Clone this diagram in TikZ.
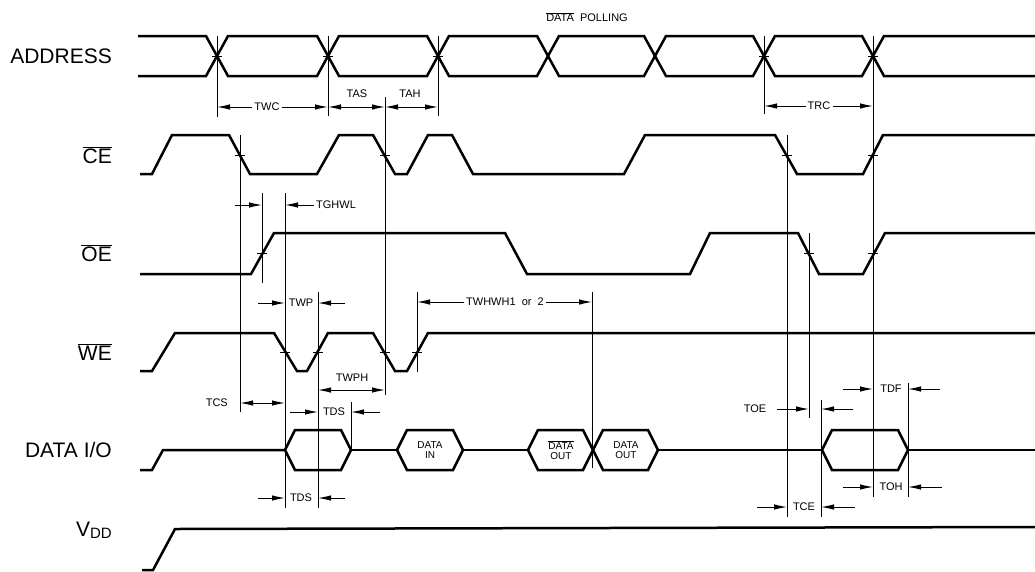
\documentclass[tikz,border=0pt]{standalone}
\usepackage{fontspec}
\setmainfont{Liberation Sans}
\usetikzlibrary{arrows.meta}

\newcommand{\databox}[2]{\draw[wave] (#1,450) -- (#1+10,430) -- (#2-10,430) -- (#2,450) -- (#2-10,470) -- (#1+10,470) -- cycle;}

\begin{document}
\begin{tikzpicture}[x=1pt, y=-1pt]
	\tikzstyle{wave}=[line width=2.5pt, line join=miter]
	\tikzstyle{guide}=[line width=1pt]
	\tikzstyle{dim}=[line width=1pt, -{Latex[length=13pt,width=5.5pt]}]
	\tikzstyle{dims}=[line width=1pt, {Latex[length=13pt,width=5.5pt]}-{Latex[length=13pt,width=5.5pt]}]
	\tikzstyle{sig}=[anchor=east, inner sep=0pt, font=\fontsize{21}{21}\selectfont]
	\tikzstyle{tlabel}=[inner sep=2pt, font=\fontsize{11}{11}\selectfont]
	\tikzstyle{hexlabel}=[inner sep=0pt, align=center, font=\fontsize{10}{10.5}\selectfont]
	\useasboundingbox (0,0) rectangle (1035,571);
	% signal names
	\node[sig] (address) at (112,56) {ADDRESS};
	\node[sig] (ce) at (112,155) {$\overline{\mbox{CE}}$};
	\node[sig] (oe) at (112,253) {$\overline{\mbox{OE}}$};
	\node[sig] (we) at (112,352) {$\overline{\mbox{WE}}$};
	\node[sig] (dataio) at (112,450) {DATA I/O};
	\node[sig] (vdd) at (112,530) {V{\fontsize{15}{15}\selectfont\raisebox{-2pt}{DD}}};
	\node[tlabel] (polling) at (587,17) {$\overline{\mbox{DATA}}$\ \ POLLING};
	% waveforms
	\draw[wave] (138,36) -- (206,36) -- (228,76) -- (317,76) -- (339,36) -- (427,36) -- (449,76) -- (537,76) -- (559,36) -- (644,36) -- (666,76) -- (753,76) -- (775,36) -- (862,36) -- (884,76) -- (1035,76);
	\draw[wave] (138,76) -- (206,76) -- (228,36) -- (317,36) -- (339,76) -- (427,76) -- (449,36) -- (537,36) -- (559,76) -- (644,76) -- (666,36) -- (753,36) -- (775,76) -- (862,76) -- (884,36) -- (1035,36);
	\draw[wave] (140,174) -- (152,174) -- (172,135) -- (229,135) -- (250,174) -- (317,174) -- (339,135) -- (373,135) -- (395,174) -- (407,174) -- (428,135) -- (452,135) -- (473,174) -- (624,174) -- (645,135) -- (775,135) -- (797,174) -- (863,174) -- (883,135) -- (1035,135);
	\draw[wave] (140,274) -- (251,274) -- (274,233) -- (505,233) -- (527,274) -- (690,274) -- (710,233) -- (798,233) -- (819,274) -- (863,274) -- (885,233) -- (1035,233);
	\draw[wave] (140,371) -- (152,371) -- (175,333) -- (274,333) -- (297,371) -- (307,371) -- (328,333) -- (373,333) -- (395,371) -- (407,371) -- (428,333) -- (1035,333);
	\draw[wave] (140,470) -- (152,470) -- (163,450) -- (285,450);
	\draw[wave] (351,450) -- (397,450);
	\draw[wave] (463,450) -- (528,450);
	\draw[wave] (658,450) -- (822,450);
	\draw[wave] (908,450) -- (1035,450);
	\draw[wave] (142,570) -- (153,570) -- (175,529) -- (1035,527);
	\databox{285}{351}
	\databox{397}{463}
	\databox{528}{593}
	\databox{593}{658}
	\databox{822}{908}
	\node[hexlabel] (din) at (430,450) {DATA\\IN};
	\node[hexlabel] (dout1) at (561,450) {$\overline{\mbox{DATA}}$\\OUT};
	\node[hexlabel] (dout2) at (626,450) {DATA\\OUT};
	% guide lines
	\foreach \x/\ya/\yb in {217/36/117, 328/36/116, 438/36/116, 764/36/114, 873/36/497,
		240/135/412, 262/193/283, 285/193/508, 318/292/508, 351/402/450, 385/97/395,
		417/292/372, 592/292/468, 787/135/517, 809/233/418, 821/400/517, 908/383/497}
		\draw[guide] (\x,\ya) -- (\x,\yb);
	\foreach \x/\y in {217/56, 328/56, 438/56, 764/56, 873/56, 240/155, 385/155, 787/155, 873/155,
		262/253, 809/253, 873/253, 285/352, 318/352, 385/352, 417/352}
		\draw[guide] (\x-5,\y) -- (\x+5,\y);
	% timing labels
	\node[tlabel] (twc) at (267,107) {TWC};
	\draw[dim] (twc.west) -- (217,107);
	\draw[dim] (twc.east) -- (328,107);
	\node[tlabel] (tas) at (357,94) {TAS};
	\draw[dims] (328,107) -- (385,107);
	\node[tlabel] (tah) at (410,94) {TAH};
	\draw[dims] (385,107) -- (438,107);
	\node[tlabel] (trc) at (819,106) {TRC};
	\draw[dim] (trc.west) -- (764,106);
	\draw[dim] (trc.east) -- (873,106);
	\node[tlabel, anchor=west] (tghwl) at (314,205) {TGHWL};
	\draw[dim] (235,205) -- (262,205);
	\draw[dim] (tghwl.west) -- (285,205);
	\node[tlabel] (twp) at (301,303) {TWP};
	\draw[dim] (258,303) -- (285,303);
	\draw[dim] (345,303) -- (318,303);
	\node[tlabel] (twhwh) at (505,302) {TWHWH1\ \ or\ \ 2};
	\draw[dim] (twhwh.west) -- (417,302);
	\draw[dim] (twhwh.east) -- (592,302);
	\node[tlabel] (twph) at (352,378) {TWPH};
	\draw[dims] (318,390) -- (385,390);
	\node[tlabel, anchor=east] (tcs) at (230,403) {TCS};
	\draw[dims] (240,403) -- (285,403);
	\node[tlabel] (tds1) at (334,412) {TDS};
	\draw[dim] (290,412) -- (318,412);
	\draw[dim] (380,412) -- (351,412);
	\node[tlabel] (tds2) at (301,498) {TDS};
	\draw[dim] (258,498) -- (285,498);
	\draw[dim] (345,498) -- (318,498);
	\node[tlabel] (toe) at (755,409) {TOE};
	\draw[dim] (777,409) -- (809,409);
	\draw[dim] (853,409) -- (821,409);
	\node[tlabel] (tce) at (804,507) {TCE};
	\draw[dim] (757,507) -- (787,507);
	\draw[dim] (855,507) -- (821,507);
	\node[tlabel] (tdf) at (891,389) {TDF};
	\draw[dim] (843,389) -- (873,389);
	\draw[dim] (940,389) -- (908,389);
	\node[tlabel] (toh) at (891,487) {TOH};
	\draw[dim] (843,487) -- (873,487);
	\draw[dim] (942,487) -- (908,487);
\end{tikzpicture}
\end{document}
